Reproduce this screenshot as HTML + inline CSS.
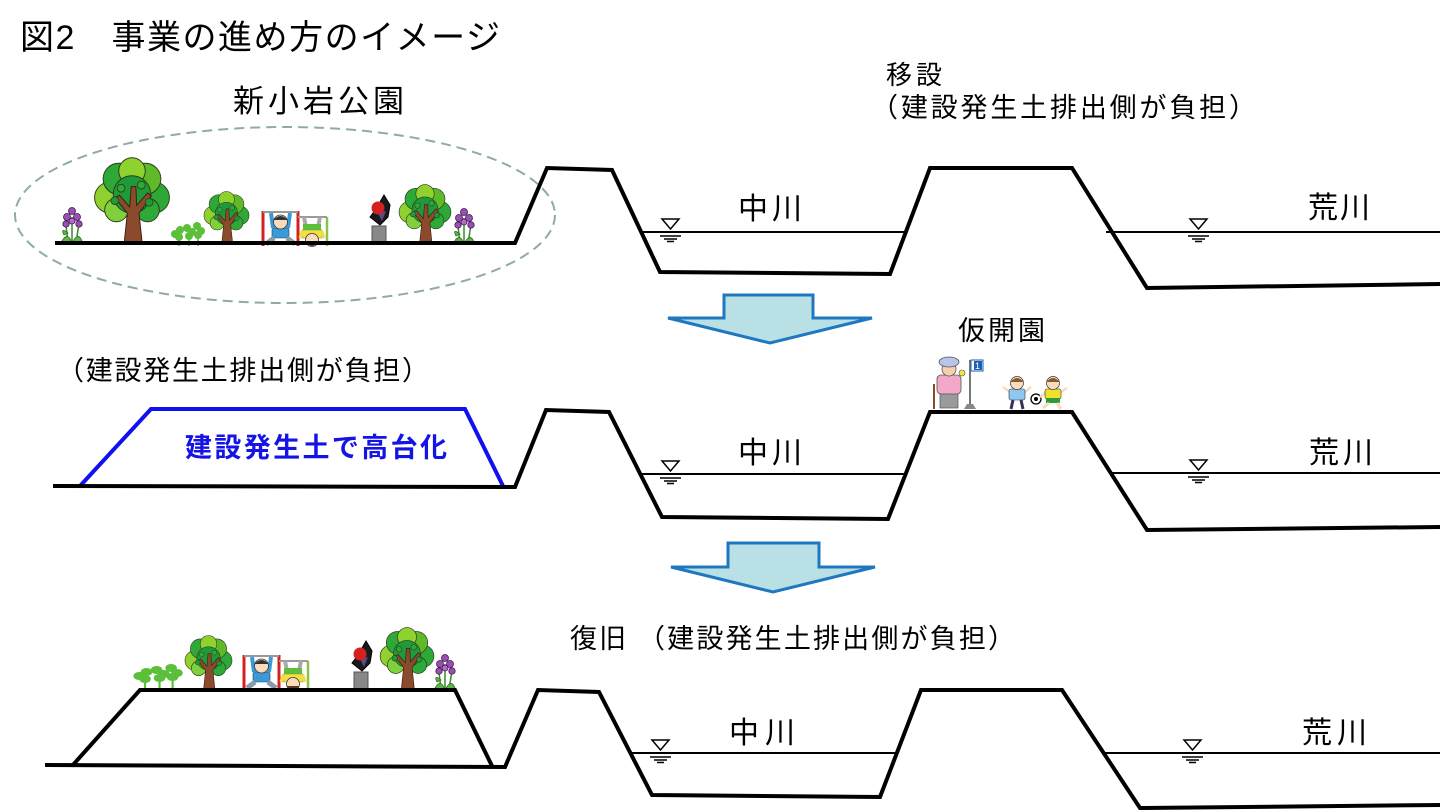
<!DOCTYPE html>
<html><head><meta charset="utf-8"><style>
html,body{margin:0;padding:0;background:#fff;}
svg{display:block;}
text{font-family:"Liberation Sans","Noto Sans CJK JP",sans-serif;fill:#000;}
</style></head><body>
<svg width="1440" height="812" viewBox="0 0 1440 812" xmlns="http://www.w3.org/2000/svg">
<defs>
  <g id="tree">
    <circle cx="22" cy="52" r="20" fill="#8fd12f" stroke="#2b3a1b" stroke-width="1.2"/>
    <circle cx="78" cy="52" r="20" fill="#2ea836" stroke="#2b3a1b" stroke-width="1.2"/>
    <circle cx="33" cy="28" r="20" fill="#2ea836" stroke="#2b3a1b" stroke-width="1.2"/>
    <circle cx="67" cy="28" r="20" fill="#5fba2a" stroke="#2b3a1b" stroke-width="1.2"/>
    <circle cx="50" cy="18" r="17" fill="#8fd12f" stroke="#2b3a1b" stroke-width="1.2"/>
    <circle cx="30" cy="68" r="15" fill="#7fd03a" stroke="#2b3a1b" stroke-width="1.2"/>
    <circle cx="70" cy="68" r="15" fill="#2ea836" stroke="#2b3a1b" stroke-width="1.2"/>
    <circle cx="50" cy="48" r="24" fill="#1e9a3a" stroke="#2b3a1b" stroke-width="1.2"/>
    <path d="M40,110 L44,72 L28,52 L34,49 L47,64 L49,38 L55,38 L56,62 L70,46 L75,50 L59,72 L63,110 Z" fill="#8b4a2b" stroke="#3a1d0e" stroke-width="1.2"/>
    <circle cx="36" cy="40" r="5" fill="#2ea836" stroke="#2b3a1b"/>
    <circle cx="62" cy="36" r="5" fill="#2ea836" stroke="#2b3a1b"/>
    <circle cx="28" cy="56" r="5" fill="#1e9a3a" stroke="#2b3a1b"/>
    <circle cx="72" cy="58" r="5" fill="#1e9a3a" stroke="#2b3a1b"/>
  </g>
  <g id="flower">
    <path d="M12,40 L12,14 M8,40 L6,22 M16,40 L19,20" stroke="#3a8a2a" stroke-width="1.5" fill="none"/>
    <path d="M2,38 Q8,28 12,40 Z M22,38 Q18,28 12,40 Z M4,32 Q0,24 8,30 Z" fill="#5cb84a" stroke="#2f6a22" stroke-width="0.8"/>
    <circle cx="12" cy="8" r="3.5" fill="#9b4fb5" stroke="#3a1a4a" stroke-width="0.8"/>
    <circle cx="7" cy="14" r="3.5" fill="#9b4fb5" stroke="#3a1a4a" stroke-width="0.8"/>
    <circle cx="17" cy="14" r="3.5" fill="#9b4fb5" stroke="#3a1a4a" stroke-width="0.8"/>
    <circle cx="6" cy="21" r="3.2" fill="#9b4fb5" stroke="#3a1a4a" stroke-width="0.8"/>
    <circle cx="19" cy="21" r="3.2" fill="#9b4fb5" stroke="#3a1a4a" stroke-width="0.8"/>
    <circle cx="12" cy="18" r="3" fill="#b46ccb" stroke="#3a1a4a" stroke-width="0.8"/>
  </g>
  <g id="clover">
    <circle cx="5" cy="14" r="4" fill="#5cbf3a"/><circle cx="10" cy="10" r="4" fill="#5cbf3a"/><circle cx="9" cy="17" r="4" fill="#5cbf3a"/>
    <circle cx="17" cy="8" r="4" fill="#5cbf3a"/><circle cx="22" cy="12" r="4" fill="#5cbf3a"/><circle cx="19" cy="16" r="4" fill="#5cbf3a"/>
    <circle cx="27" cy="6" r="4" fill="#5cbf3a"/><circle cx="31" cy="11" r="4" fill="#5cbf3a"/><circle cx="28" cy="15" r="4" fill="#5cbf3a"/>
    <path d="M9,18 L9,26 M19,16 L19,26 M28,15 L28,26" stroke="#5cbf3a" stroke-width="1.5"/>
  </g>
  <g id="bars">
    <line x1="0" y1="0" x2="0" y2="35" stroke="#d42020" stroke-width="3"/>
    <line x1="35" y1="0" x2="35" y2="35" stroke="#d42020" stroke-width="3"/>
    <line x1="0" y1="1" x2="35" y2="1" stroke="#999" stroke-width="2"/>
    <line x1="64" y1="6" x2="64" y2="35" stroke="#8bc34a" stroke-width="2.5"/>
    <line x1="35" y1="6" x2="64" y2="6" stroke="#999" stroke-width="2"/>
    <!-- boy -->
    <path d="M8,2 L10,17 M27,2 L25,17" stroke="#3a9ad9" stroke-width="4"/>
    <rect x="9" y="17" width="17" height="10" rx="2" fill="#3a9ad9" stroke="#245" stroke-width="0.6"/>
    <circle cx="17.5" cy="11" r="7" fill="#f9dcbc" stroke="#333" stroke-width="0.8"/>
    <path d="M10.5,9 Q17.5,1 24.5,9 Z" fill="#333"/>
    <path d="M11,27 L3,33 M24,27 L32,33" stroke="#8a9aa8" stroke-width="5"/>
    <!-- upside-down kid -->
    <path d="M41,6 L43,16 M57,6 L55,16" stroke="#aaa" stroke-width="4"/>
    <rect x="40" y="13" width="18" height="7" fill="#5cbf3a"/>
    <rect x="39" y="19" width="20" height="8" fill="#f0e040" stroke="#886" stroke-width="0.5"/>
    <path d="M39,20 L37,27 M59,20 L61,27" stroke="#f0e040" stroke-width="3"/>
    <circle cx="49" cy="29" r="6.5" fill="#f9dcbc" stroke="#333" stroke-width="0.8"/>
    <path d="M42.5,31 Q49,39 55.5,31 Z" fill="#5a3a1a"/>
  </g>
  <g id="sculpt">
    <path d="M8,14 L16,0 L22,10 L20,22 L12,30 L2,22 Z" fill="#1a1a1a" stroke="#000"/>
    <path d="M10,18 L18,16 L14,26 Z" fill="#5a4a8a"/>
    <circle cx="10" cy="13" r="6.5" fill="#d42020"/>
    <rect x="4" y="31" width="14" height="17" fill="#888" stroke="#555"/>
  </g>
</defs>

<!-- Title -->
<text x="20" y="49" font-size="34" textLength="480" lengthAdjust="spacing">図2　事業の進め方のイメージ</text>
<text x="233" y="112" font-size="31" textLength="171" lengthAdjust="spacing">新小岩公園</text>
<text x="886" y="84" font-size="26" textLength="56" lengthAdjust="spacing">移設</text>
<text x="871" y="117" font-size="27" textLength="385" lengthAdjust="spacing">（建設発生土排出側が負担）</text>

<!-- Section 1 -->
<ellipse cx="285" cy="215" rx="270" ry="88" fill="none" stroke="#8fa9ad" stroke-width="2" stroke-dasharray="10 6"/>
<use href="#tree" transform="translate(93,157) scale(0.78)"/>
<use href="#tree" transform="translate(203,191) scale(0.47)"/>
<use href="#tree" transform="translate(398,184) scale(0.54)"/>
<use href="#flower" transform="translate(60,203)"/>
<use href="#flower" transform="translate(452,204)"/>
<use href="#clover" transform="translate(170,220)"/>
<use href="#bars" transform="translate(263,211)"/>
<use href="#sculpt" transform="translate(368,195)"/>
<polyline points="55,243 515,243 547,168 612,170 660,272 890,274 930,168 1072,168 1147,288 1440,284" fill="none" stroke="#000" stroke-width="4" stroke-linejoin="miter"/>
<line x1="643" y1="232" x2="904" y2="232" stroke="#000" stroke-width="2"/>
<line x1="1106" y1="232" x2="1440" y2="232" stroke="#000" stroke-width="2"/>
<text x="738" y="219" font-size="30" textLength="64" lengthAdjust="spacing">中川</text>
<text x="1308" y="218" font-size="30" textLength="62" lengthAdjust="spacing">荒川</text>

<!-- Arrow 1 -->
<polygon points="724,295 813,295 813,318 872,318 770,343 668,318 724,318" fill="#b9e0e4" stroke="#1f77c0" stroke-width="3" stroke-linejoin="miter"/>

<!-- Section 2 -->
<text x="958" y="340" font-size="27" textLength="87" lengthAdjust="spacing">仮開園</text>
<text x="57" y="380" font-size="27" textLength="372" lengthAdjust="spacing">（建設発生土排出側が負担）</text>
<polyline points="80,486 151,409 465,409 503,486" fill="none" stroke="#1010f0" stroke-width="4"/>
<text x="185" y="457" font-size="27" font-weight="bold" textLength="262" lengthAdjust="spacing" style="fill:#1414e6">建設発生土で高台化</text>
<polyline points="53,486 515,487 546,410 609,412 662,517 888,519 930,412 1072,412 1147,530 1440,527" fill="none" stroke="#000" stroke-width="4"/>
<line x1="641" y1="474" x2="906" y2="474" stroke="#000" stroke-width="2"/>
<line x1="1112" y1="473" x2="1440" y2="473" stroke="#000" stroke-width="2"/>
<text x="738" y="463" font-size="30" textLength="64" lengthAdjust="spacing">中川</text>
<text x="1309" y="463" font-size="30" textLength="64" lengthAdjust="spacing">荒川</text>

<!-- people on middle levee -->
<g>
  <line x1="934" y1="384" x2="934" y2="409" stroke="#8b4a2b" stroke-width="2"/>
  <rect x="940" y="392" width="18" height="16" fill="#9a9a9a" stroke="#555" stroke-width="0.7"/>
  <rect x="937" y="375" width="24" height="19" rx="4" fill="#f2a9c9" stroke="#555" stroke-width="0.8"/>
  <circle cx="949" cy="369" r="7" fill="#f6cfb0" stroke="#555" stroke-width="0.8"/>
  <ellipse cx="949" cy="362" rx="10" ry="5" fill="#b8c4e8" stroke="#555" stroke-width="0.8"/>
  <circle cx="962" cy="373" r="3" fill="#f3e33a" stroke="#555" stroke-width="0.6"/>
  <line x1="970" y1="360" x2="970" y2="407" stroke="#777" stroke-width="2"/>
  <path d="M964,409 L976,409 L973,404 L967,404 Z" fill="#888"/>
  <rect x="971" y="360" width="12" height="11" fill="#fff" stroke="#1a5fb4" stroke-width="1"/>
  <rect x="974" y="361" width="8" height="9" fill="#1a5fb4"/>
  <text x="975" y="369" font-size="9" style="fill:#fff">1</text>
  <!-- kid 1 -->
  <path d="M1010,392 L1003,387 M1025,392 L1031,387" stroke="#f9dcbc" stroke-width="2.5"/>
  <rect x="1009" y="389" width="16" height="11" rx="2" fill="#8ec8f0" stroke="#333" stroke-width="0.6"/>
  <path d="M1013,400 L1011,409 M1021,400 L1023,409" stroke="#335" stroke-width="3"/>
  <circle cx="1017" cy="383" r="6.5" fill="#f9dcbc" stroke="#333" stroke-width="0.7"/>
  <path d="M1010.5,382 Q1017,374 1023.5,382 Z" fill="#8a5a2a"/>
  <circle cx="1036" cy="399" r="5" fill="#fff" stroke="#000" stroke-width="1.3"/>
  <circle cx="1036" cy="399" r="2" fill="#000"/>
  <!-- kid 2 -->
  <path d="M1046,392 L1040,397 M1061,392 L1067,388" stroke="#f9dcbc" stroke-width="2.5"/>
  <rect x="1045" y="389" width="16" height="10" rx="2" fill="#f3e02b" stroke="#333" stroke-width="0.6"/>
  <rect x="1046" y="398" width="14" height="5" fill="#2e9a3a"/>
  <path d="M1049,403 L1043,408 M1057,403 L1061,409" stroke="#f9dcbc" stroke-width="3"/>
  <circle cx="1053" cy="383" r="6.5" fill="#f9dcbc" stroke="#333" stroke-width="0.7"/>
  <path d="M1046.5,382 Q1053,374 1059.5,382 Z" fill="#8a5a2a"/>
</g>

<!-- Arrow 2 -->
<polygon points="728,543 819,543 819,567 875,567 773,592 671,567 728,567" fill="#b9e0e4" stroke="#1f77c0" stroke-width="3" stroke-linejoin="miter"/>

<!-- Section 3 -->
<text x="570" y="648" font-size="27" textLength="445" lengthAdjust="spacing">復旧 （建設発生土排出側が負担）</text>
<use href="#clover" transform="translate(132,662) scale(1.45,1.0)"/>
<use href="#tree" transform="translate(184,635) scale(0.49)"/>
<use href="#tree" transform="translate(379,627) scale(0.56)"/>
<use href="#flower" transform="translate(433,650)"/>
<use href="#bars" transform="translate(244,655)"/>
<use href="#sculpt" transform="translate(350,641)"/>
<polyline points="72,766 140,690 455,690 492,766" fill="none" stroke="#000" stroke-width="4"/>
<polyline points="45,765 505,767 538,690 599,692 652,795 880,797 921,690 1062,690 1140,808 1440,805" fill="none" stroke="#000" stroke-width="4"/>
<line x1="631" y1="753" x2="896" y2="753" stroke="#000" stroke-width="2"/>
<line x1="1103" y1="753" x2="1440" y2="753" stroke="#000" stroke-width="2"/>
<text x="729" y="743" font-size="30" textLength="66" lengthAdjust="spacing">中川</text>
<text x="1302" y="743" font-size="30" textLength="65" lengthAdjust="spacing">荒川</text>

<!-- water level symbols -->
<g stroke="#000" stroke-width="1.5" fill="#fff">
  <polygon points="662,219 679,219 670.5,229"/>
  <polygon points="1190,219 1207,219 1198.5,229"/>
  <polygon points="662,461 679,461 670.5,471"/>
  <polygon points="1190,460 1207,460 1198.5,470"/>
  <polygon points="652,740 669,740 660.5,750"/>
  <polygon points="1184,740 1201,740 1192.5,750"/>
</g>
<g stroke="#000" stroke-width="1.5">
  <path d="M660,236 H681 M664,239 H677 M667,241.5 H674"/>
  <path d="M1188,236 H1209 M1192,239 H1205 M1195,241.5 H1202"/>
  <path d="M660,478 H681 M664,481 H677 M667,483.5 H674"/>
  <path d="M1188,477 H1209 M1192,480 H1205 M1195,482.5 H1202"/>
  <path d="M650,757 H671 M654,760 H667 M657,762.5 H664"/>
  <path d="M1182,757 H1203 M1186,760 H1199 M1189,762.5 H1196"/>
</g>
</svg>
</body></html>
